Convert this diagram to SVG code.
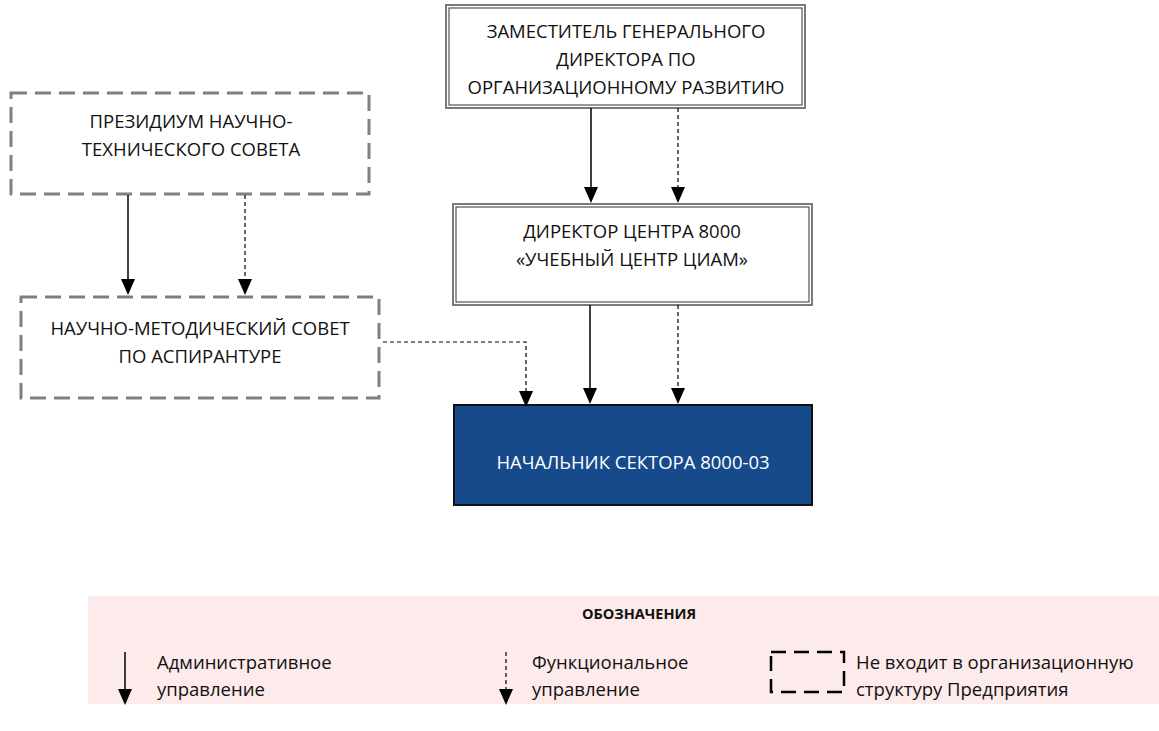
<svg xmlns="http://www.w3.org/2000/svg" width="1159" height="731" viewBox="0 0 1159 731">
<style>
.t{font-family:"Open Sans","Liberation Sans",sans-serif;font-size:18.5px;fill:#111;text-anchor:middle}
.w{fill:#fff}
.lg{font-family:"Open Sans","Liberation Sans",sans-serif;font-size:18.5px;fill:#111}
.b{font-weight:bold;font-size:14.5px;text-anchor:middle}
.outer{fill:#fff;stroke:#7a7a7a;stroke-width:2}
.inner{fill:none;stroke:#333;stroke-width:1}
.dash{fill:#fff;stroke:#808080;stroke-width:3;stroke-dasharray:16 8}
.sol{stroke:#000;stroke-width:1.5;fill:none}
.fun{stroke:#000;stroke-width:1.2;fill:none;stroke-dasharray:4 3}
</style>

<g id="node-deputy">
<rect class="outer" x="446" y="5" width="359" height="103"/>
<rect class="inner" x="449" y="8" width="353" height="97"/>
<text class="t" x="626" y="38">ЗАМЕСТИТЕЛЬ ГЕНЕРАЛЬНОГО</text>
<text class="t" x="626" y="66">ДИРЕКТОРА ПО</text>
<text class="t" x="626" y="94">ОРГАНИЗАЦИОННОМУ РАЗВИТИЮ</text>
</g>

<g id="node-director">
<rect class="outer" x="453" y="204" width="359" height="101"/>
<rect class="inner" x="456" y="207" width="353" height="95"/>
<text class="t" x="632" y="238">ДИРЕКТОР ЦЕНТРА 8000</text>
<text class="t" x="632" y="266">«УЧЕБНЫЙ ЦЕНТР ЦИАМ»</text>
</g>

<g id="node-presidium">
<rect class="dash" x="11" y="93" width="358" height="101"/>
<text class="t" x="191" y="128">ПРЕЗИДИУМ НАУЧНО-</text>
<text class="t" x="191" y="156">ТЕХНИЧЕСКОГО СОВЕТА</text>
</g>

<g id="node-council">
<rect class="dash" x="21" y="297" width="358" height="101"/>
<text class="t" x="200" y="335">НАУЧНО-МЕТОДИЧЕСКИЙ СОВЕТ</text>
<text class="t" x="200" y="363">ПО АСПИРАНТУРЕ</text>
</g>

<g id="node-head">
<rect x="454" y="405" width="358" height="100" fill="#174a8b" stroke="#111" stroke-width="2"/>
<text class="t w" x="633" y="469">НАЧАЛЬНИК СЕКТОРА 8000-03</text>
</g>

<g id="connectors">
<line class="sol" x1="591" y1="108" x2="591" y2="188"/>
<path d="M584,187 L598,187 L591,203 Z" fill="#000"/>
<line class="fun" x1="678" y1="108" x2="678" y2="188"/>
<path d="M671,187 L685,187 L678,203 Z" fill="#000"/>

<line class="sol" x1="128" y1="195" x2="128" y2="280"/>
<path d="M121,279 L135,279 L128,295 Z" fill="#000"/>
<line class="fun" x1="245" y1="195" x2="245" y2="280"/>
<path d="M238,279 L252,279 L245,295 Z" fill="#000"/>

<line class="sol" x1="590" y1="305" x2="590" y2="389"/>
<path d="M583,388 L597,388 L590,404 Z" fill="#000"/>
<line class="fun" x1="678" y1="305" x2="678" y2="389"/>
<path d="M671,388 L685,388 L678,404 Z" fill="#000"/>

<polyline class="fun" points="383,342 526,342 526,392"/>
<path d="M519,391 L533,391 L526,407 Z" fill="#000"/>
</g>

<g id="legend">
<rect x="88" y="596" width="1071" height="108" fill="#fdeaea"/>
<text class="lg b" x="639" y="619">ОБОЗНАЧЕНИЯ</text>
<line class="sol" x1="125" y1="652" x2="125" y2="690"/>
<path d="M118,689 L132,689 L125,705 Z" fill="#000"/>
<text class="lg" x="157" y="669">Административное</text>
<text class="lg" x="157" y="696">управление</text>
<line class="fun" x1="506" y1="652" x2="506" y2="690"/>
<path d="M499,689 L513,689 L506,705 Z" fill="#000"/>
<text class="lg" x="532" y="669">Функциональное</text>
<text class="lg" x="532" y="696">управление</text>
<rect x="771" y="652" width="73" height="40" fill="none" stroke="#000" stroke-width="2.5" stroke-dasharray="15 8"/>
<text class="lg" x="856" y="669">Не входит в организационную</text>
<text class="lg" x="856" y="696">структуру Предприятия</text>
</g>
</svg>
